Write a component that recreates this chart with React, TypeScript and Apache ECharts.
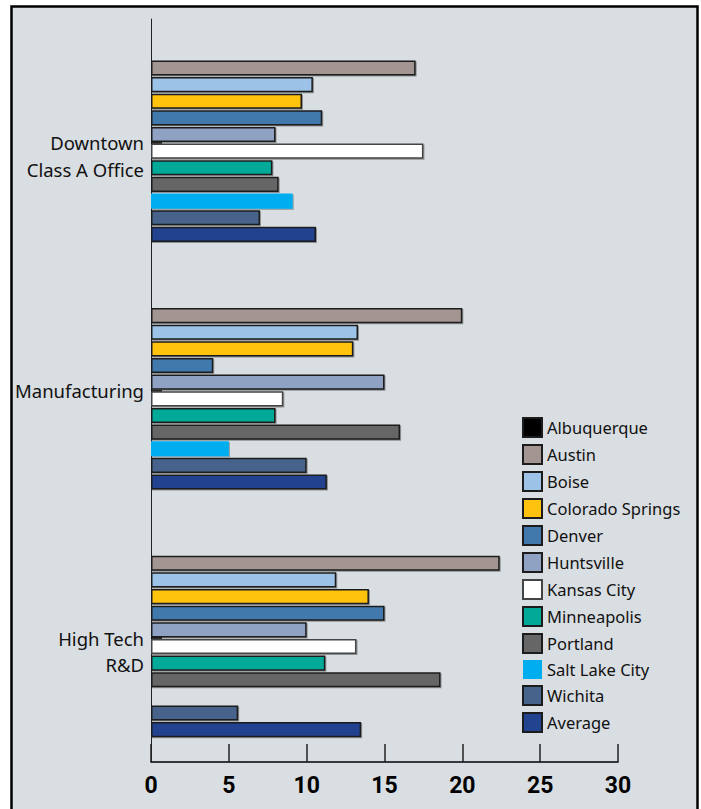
import React, { useEffect, useRef } from "react";
import * as echarts from "echarts";

const categories = ["Downtown\nClass A Office", "Manufacturing", "High Tech\nR&D"];
const cityNames = [
  "Albuquerque",
  "Austin",
  "Boise",
  "Colorado Springs",
  "Denver",
  "Huntsville",
  "Kansas City",
  "Minneapolis",
  "Portland",
  "Salt Lake City",
  "Wichita",
  "Average",
];
const albuquerque = [null, null, null];
const austin = [17.0, 20.0, 22.4];
const boise = [10.4, 13.3, 11.9];
const coloradoSprings = [9.7, 13.0, 14.0];
const denver = [11.0, 4.0, 15.0];
const huntsville = [8.0, 15.0, 10.0];
const kansasCity = [17.5, 8.5, 13.2];
const minneapolis = [7.8, 8.0, 11.2];
const portland = [8.2, 16.0, 18.6];
const saltLakeCity = [9.1, 5.0, null];
const wichita = [7.0, 10.0, 5.6];
const average = [10.6, 11.3, 13.5];
const xTicks = [0, 30, 5]; // min, max, interval

const seriesValues = [
  albuquerque,
  austin,
  boise,
  coloradoSprings,
  denver,
  huntsville,
  kansasCity,
  minneapolis,
  portland,
  saltLakeCity,
  wichita,
  average,
];
const colors = [
  "#000000",
  "#a39591",
  "#9cc2e7",
  "#ffc20f",
  "#4279ad",
  "#90a2c3",
  "#ffffff",
  "#00a998",
  "#666666",
  "#00aeef",
  "#46638b",
  "#22438f",
];

export default function App() {
  const ref = useRef<HTMLDivElement>(null);
  useEffect(() => {
    document.body.style.margin = "0";
    const chart = echarts.init(ref.current!, null, { renderer: "svg" });
    const series = cityNames.map((name, i) => ({
      name,
      type: "bar",
      data: seriesValues[i],
      barGap: "10%",
      barCategoryGap: "20%",
      itemStyle: {
        color: colors[i],
        borderColor: name === "Kansas City" ? "#444" : "#1c1c1c",
        borderWidth: name === "Salt Lake City" ? 0 : 1.5,
        shadowColor: "rgba(0,0,0,0.35)",
        shadowOffsetX: 1,
        shadowOffsetY: 1,
        shadowBlur: 1,
      },
      emphasis: { disabled: true },
    }));
    chart.setOption({
      animation: false,
      backgroundColor: "#ffffff",
      graphic: [
        {
          type: "rect",
          z: -10,
          silent: true,
          shape: { x: 11.5, y: 6.5, width: 686, height: 830 },
          style: { fill: "#d9dee2", stroke: "#000", lineWidth: 2.5 },
        },
      ],
      grid: { left: 151, right: 83, top: 19, bottom: 47, containLabel: false },
      legend: {
        orient: "vertical",
        left: 522,
        top: 417,
        padding: 0,
        itemWidth: 19,
        itemHeight: 19,
        itemGap: 6,
        icon: "rect",
        selectedMode: false,
        textStyle: {
          fontFamily: "Noto Sans",
          fontSize: 16.5,
          color: "#111",
          lineHeight: 19,
        },
        data: cityNames,
      },
      xAxis: {
        type: "value",
        min: xTicks[0],
        max: xTicks[1],
        interval: xTicks[2],
        splitLine: { show: false },
        axisLine: { show: true, lineStyle: { color: "#000", width: 1.5 } },
        axisTick: { show: true, inside: true, length: 18, lineStyle: { color: "#222", width: 1.5 } },
        axisLabel: {
          color: "#000",
          fontFamily: "Roboto",
          fontWeight: "bold",
          fontSize: 23,
          margin: 12,
        },
      },
      yAxis: {
        type: "category",
        inverse: true,
        data: categories,
        axisLine: { show: true, lineStyle: { color: "#222", width: 1 } },
        axisTick: { show: true, inside: true, alignWithLabel: true, length: 11, lineStyle: { color: "#000", width: 1.5 } },
        axisLabel: {
          color: "#111",
          fontFamily: "Noto Sans",
          fontSize: 18.5,
          lineHeight: 26.7,
          margin: 7,
          align: "right",
          padding: [8, 0, 0, 0],
          formatter: (v: string) => (v.indexOf("\n") >= 0 ? "\n" + v : v),
        },
      },
      series,
    });
    return () => chart.dispose();
  }, []);
  return <div ref={ref} style={{ width: 701, height: 809 }} />;
}
